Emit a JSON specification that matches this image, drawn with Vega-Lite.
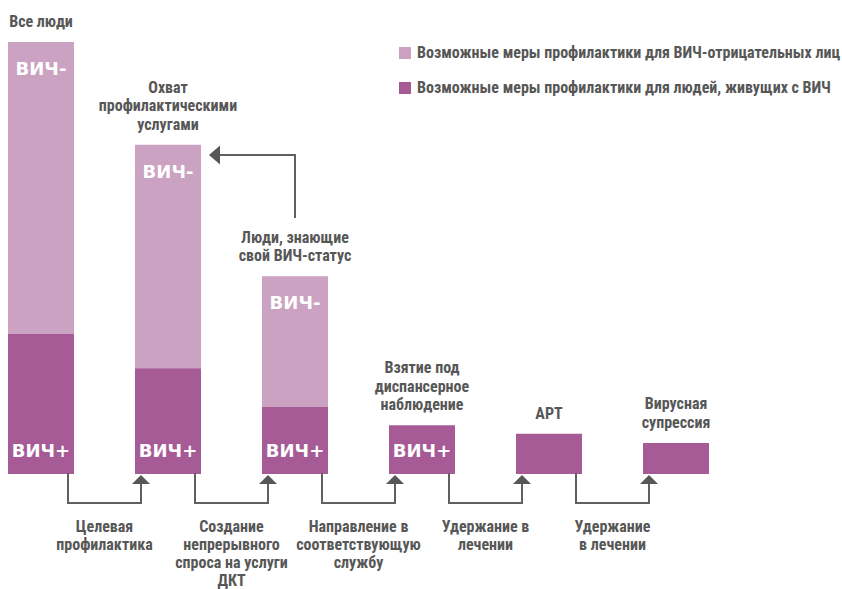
{
  "$schema": "https://vega.github.io/schema/vega-lite/v6.json",
  "width": 842,
  "height": 589,
  "padding": 0,
  "autosize": {"type": "none"},
  "background": "white",
  "config": {"view": {"stroke": null}},
  "datasets": {
    "bars": [
      {"step": 0, "stage": "Все люди", "group": "Возможные меры профилактики для ВИЧ-отрицательных лиц", "count": 67.6},
      {"step": 0, "stage": "Все люди", "group": "Возможные меры профилактики для людей, живущих с ВИЧ", "count": 32.4},
      {"step": 1, "stage": "Охват\nпрофилактическими\nуслугами", "group": "Возможные меры профилактики для ВИЧ-отрицательных лиц", "count": 51.7},
      {"step": 1, "stage": "Охват\nпрофилактическими\nуслугами", "group": "Возможные меры профилактики для людей, живущих с ВИЧ", "count": 24.5},
      {"step": 2, "stage": "Люди, знающие\nсвой ВИЧ-статус", "group": "Возможные меры профилактики для ВИЧ-отрицательных лиц", "count": 30.3},
      {"step": 2, "stage": "Люди, знающие\nсвой ВИЧ-статус", "group": "Возможные меры профилактики для людей, живущих с ВИЧ", "count": 15.5},
      {"step": 3, "stage": "Взятие под\nдиспансерное\nнаблюдение", "group": "Возможные меры профилактики для ВИЧ-отрицательных лиц", "count": 0},
      {"step": 3, "stage": "Взятие под\nдиспансерное\nнаблюдение", "group": "Возможные меры профилактики для людей, живущих с ВИЧ", "count": 11.3},
      {"step": 4, "stage": "АРТ", "group": "Возможные меры профилактики для ВИЧ-отрицательных лиц", "count": 0},
      {"step": 4, "stage": "АРТ", "group": "Возможные меры профилактики для людей, живущих с ВИЧ", "count": 9.3},
      {"step": 5, "stage": "Вирусная\nсупрессия", "group": "Возможные меры профилактики для ВИЧ-отрицательных лиц", "count": 0},
      {"step": 5, "stage": "Вирусная\nсупрессия", "group": "Возможные меры профилактики для людей, живущих с ВИЧ", "count": 7.2}
    ],
    "flows": [
      {"from": 0, "to": 1, "mid": 0.5, "label": "Целевая\nпрофилактика"},
      {"from": 1, "to": 2, "mid": 1.5, "label": "Создание\nнепрерывного\nспроса на услуги\nДКТ"},
      {"from": 2, "to": 3, "mid": 2.5, "label": "Направление в\nсоответствующую\nслужбу"},
      {"from": 3, "to": 4, "mid": 3.5, "label": "Удержание в\nлечении"},
      {"from": 4, "to": 5, "mid": 4.5, "label": "Удержание\nв лечении"}
    ],
    "feedback": [
      {"from": 2, "to": 1}
    ]
  },
  "layer": [
    {
      "data": {"name": "bars"},
      "transform": [
        {"stack": "count", "groupby": ["step"], "sort": [{"field": "group", "order": "descending"}], "as": ["lo", "hi"]}
      ],
      "mark": {"type": "bar", "width": 66},
      "encoding": {
        "x": {"field": "step", "type": "quantitative", "scale": {"domain": [-0.3228, 6.307], "nice": false, "zero": false, "padding": 0}, "axis": null},
        "y": {"field": "lo", "type": "quantitative", "scale": {"domain": [-26.62, 109.72], "nice": false, "zero": false}, "axis": null},
        "y2": {"field": "hi"},
        "color": {
          "field": "group",
          "type": "nominal",
          "scale": {
            "domain": ["Возможные меры профилактики для ВИЧ-отрицательных лиц", "Возможные меры профилактики для людей, живущих с ВИЧ"],
            "range": ["#CBA2C1", "#A65B96"]
          },
          "legend": {
            "orient": "none",
            "legendX": 397,
            "legendY": 45,
            "title": null,
            "symbolType": "square",
            "symbolSize": 144,
            "symbolStrokeWidth": 0,
            "symbolOpacity": 1,
            "labelFont": "Roboto Condensed, Open Sans Condensed, sans-serif",
            "labelFontSize": 16,
            "labelFontWeight": "bold",
            "labelColor": "#575757",
            "labelLimit": 600,
            "rowPadding": 19,
            "labelOffset": 4,
            "padding": 0
          }
        }
      }
    },
    {
      "data": {"name": "bars"},
      "transform": [
        {"stack": "count", "groupby": ["step"], "sort": [{"field": "group", "order": "descending"}], "as": ["lo", "hi"]},
        {"filter": "datum.group == 'Возможные меры профилактики для ВИЧ-отрицательных лиц' && length(split(datum.stage, '\\n')) == 1"}
      ],
      "mark": {"type": "text", "align": "center", "baseline": "bottom", "dy": -12, "font": "Roboto Condensed, Open Sans Condensed, sans-serif", "fontSize": 16, "fontWeight": "bold", "color": "#575757", "lineBreak": "\n", "lineHeight": 18.5},
      "encoding": {
        "x": {"field": "step", "type": "quantitative", "scale": {"domain": [-0.3228, 6.307], "nice": false, "zero": false, "padding": 0}, "axis": null},
        "y": {"field": "hi", "type": "quantitative", "scale": {"domain": [-26.62, 109.72], "nice": false, "zero": false}, "axis": null},
        "text": {"field": "stage"}
      }
    },
    {
      "data": {"name": "bars"},
      "transform": [
        {"stack": "count", "groupby": ["step"], "sort": [{"field": "group", "order": "descending"}], "as": ["lo", "hi"]},
        {"filter": "datum.group == 'Возможные меры профилактики для ВИЧ-отрицательных лиц' && length(split(datum.stage, '\\n')) == 2"}
      ],
      "mark": {"type": "text", "align": "center", "baseline": "bottom", "dy": -30.5, "font": "Roboto Condensed, Open Sans Condensed, sans-serif", "fontSize": 16, "fontWeight": "bold", "color": "#575757", "lineBreak": "\n", "lineHeight": 18.5},
      "encoding": {
        "x": {"field": "step", "type": "quantitative", "scale": {"domain": [-0.3228, 6.307], "nice": false, "zero": false, "padding": 0}, "axis": null},
        "y": {"field": "hi", "type": "quantitative", "scale": {"domain": [-26.62, 109.72], "nice": false, "zero": false}, "axis": null},
        "text": {"field": "stage"}
      }
    },
    {
      "data": {"name": "bars"},
      "transform": [
        {"stack": "count", "groupby": ["step"], "sort": [{"field": "group", "order": "descending"}], "as": ["lo", "hi"]},
        {"filter": "datum.group == 'Возможные меры профилактики для ВИЧ-отрицательных лиц' && length(split(datum.stage, '\\n')) == 3"}
      ],
      "mark": {"type": "text", "align": "center", "baseline": "bottom", "dy": -49, "font": "Roboto Condensed, Open Sans Condensed, sans-serif", "fontSize": 16, "fontWeight": "bold", "color": "#575757", "lineBreak": "\n", "lineHeight": 18.5},
      "encoding": {
        "x": {"field": "step", "type": "quantitative", "scale": {"domain": [-0.3228, 6.307], "nice": false, "zero": false, "padding": 0}, "axis": null},
        "y": {"field": "hi", "type": "quantitative", "scale": {"domain": [-26.62, 109.72], "nice": false, "zero": false}, "axis": null},
        "text": {"field": "stage"}
      }
    },
    {
      "data": {"name": "bars"},
      "transform": [
        {"stack": "count", "groupby": ["step"], "sort": [{"field": "group", "order": "descending"}], "as": ["lo", "hi"]},
        {"filter": "datum.group == 'Возможные меры профилактики для ВИЧ-отрицательных лиц' && datum.count > 0"}
      ],
      "mark": {"type": "text", "text": "ВИЧ-", "align": "center", "baseline": "middle", "dy": 28, "font": "DejaVu Sans", "fontSize": 18, "fontWeight": "bold", "color": "white"},
      "encoding": {
        "x": {"field": "step", "type": "quantitative", "scale": {"domain": [-0.3228, 6.307], "nice": false, "zero": false, "padding": 0}, "axis": null},
        "y": {"field": "hi", "type": "quantitative", "scale": {"domain": [-26.62, 109.72], "nice": false, "zero": false}, "axis": null}
      }
    },
    {
      "data": {"name": "bars"},
      "transform": [
        {"stack": "count", "groupby": ["step"], "sort": [{"field": "group", "order": "descending"}], "as": ["lo", "hi"]},
        {"filter": "datum.group == 'Возможные меры профилактики для людей, живущих с ВИЧ' && datum.step <= 3"}
      ],
      "mark": {"type": "text", "text": "ВИЧ+", "align": "center", "baseline": "middle", "dy": -22, "font": "DejaVu Sans", "fontSize": 18, "fontWeight": "bold", "color": "white"},
      "encoding": {
        "x": {"field": "step", "type": "quantitative", "scale": {"domain": [-0.3228, 6.307], "nice": false, "zero": false, "padding": 0}, "axis": null},
        "y": {"field": "lo", "type": "quantitative", "scale": {"domain": [-26.62, 109.72], "nice": false, "zero": false}, "axis": null}
      }
    },
    {
      "data": {"name": "flows"},
      "mark": {"type": "rule", "xOffset": 27, "color": "#606060", "strokeWidth": 2, "strokeCap": "square"},
      "encoding": {
        "x": {"field": "from", "type": "quantitative", "scale": {"domain": [-0.3228, 6.307], "nice": false, "zero": false, "padding": 0}, "axis": null},
        "y": {"datum": 0, "type": "quantitative", "scale": {"domain": [-26.62, 109.72], "nice": false, "zero": false}, "axis": null},
        "y2": {"datum": -6.71}
      }
    },
    {
      "data": {"name": "flows"},
      "mark": {"type": "rule", "xOffset": 27, "x2Offset": -27, "color": "#606060", "strokeWidth": 2, "strokeCap": "square"},
      "encoding": {
        "x": {"field": "from", "type": "quantitative", "scale": {"domain": [-0.3228, 6.307], "nice": false, "zero": false, "padding": 0}, "axis": null},
        "x2": {"field": "to"},
        "y": {"datum": -6.71, "type": "quantitative", "scale": {"domain": [-26.62, 109.72], "nice": false, "zero": false}, "axis": null}
      }
    },
    {
      "data": {"name": "flows"},
      "mark": {"type": "rule", "xOffset": -27, "color": "#606060", "strokeWidth": 2, "strokeCap": "square"},
      "encoding": {
        "x": {"field": "to", "type": "quantitative", "scale": {"domain": [-0.3228, 6.307], "nice": false, "zero": false, "padding": 0}, "axis": null},
        "y": {"datum": -2.3, "type": "quantitative", "scale": {"domain": [-26.62, 109.72], "nice": false, "zero": false}, "axis": null},
        "y2": {"datum": -6.71}
      }
    },
    {
      "data": {"name": "flows"},
      "mark": {"type": "point", "shape": "M-1,0.5L0,-0.5L1,0.5Z", "size": 324, "filled": true, "opacity": 1, "xOffset": -27, "color": "#575757", "strokeWidth": 0},
      "encoding": {
        "x": {"field": "to", "type": "quantitative", "scale": {"domain": [-0.3228, 6.307], "nice": false, "zero": false, "padding": 0}, "axis": null},
        "y": {"datum": -1.27, "type": "quantitative", "scale": {"domain": [-26.62, 109.72], "nice": false, "zero": false}, "axis": null}
      }
    },
    {
      "data": {"name": "flows"},
      "mark": {"type": "text", "align": "center", "baseline": "top", "dy": 45, "font": "Roboto Condensed, Open Sans Condensed, sans-serif", "fontSize": 16, "fontWeight": "bold", "color": "#575757", "lineBreak": "\n", "lineHeight": 18},
      "encoding": {
        "x": {"field": "mid", "type": "quantitative", "scale": {"domain": [-0.3228, 6.307], "nice": false, "zero": false, "padding": 0}, "axis": null},
        "y": {"datum": 0, "type": "quantitative", "scale": {"domain": [-26.62, 109.72], "nice": false, "zero": false}, "axis": null},
        "text": {"field": "label"}
      }
    },
    {
      "data": {"name": "feedback"},
      "mark": {"type": "rule", "color": "#606060", "strokeWidth": 2, "strokeCap": "square"},
      "encoding": {
        "x": {"field": "from", "type": "quantitative", "scale": {"domain": [-0.3228, 6.307], "nice": false, "zero": false, "padding": 0}, "axis": null},
        "y": {"datum": 59.49, "type": "quantitative", "scale": {"domain": [-26.62, 109.72], "nice": false, "zero": false}, "axis": null},
        "y2": {"datum": 73.84}
      }
    },
    {
      "data": {"name": "feedback"},
      "mark": {"type": "rule", "xOffset": 52, "color": "#606060", "strokeWidth": 2, "strokeCap": "square"},
      "encoding": {
        "x": {"field": "to", "type": "quantitative", "scale": {"domain": [-0.3228, 6.307], "nice": false, "zero": false, "padding": 0}, "axis": null},
        "x2": {"field": "from"},
        "y": {"datum": 73.84, "type": "quantitative", "scale": {"domain": [-26.62, 109.72], "nice": false, "zero": false}, "axis": null}
      }
    },
    {
      "data": {"name": "feedback"},
      "mark": {"type": "point", "shape": "M-0.58,0L0.58,-1L0.58,1Z", "size": 361, "filled": true, "opacity": 1, "xOffset": 46.5, "color": "#575757", "strokeWidth": 0},
      "encoding": {
        "x": {"field": "to", "type": "quantitative", "scale": {"domain": [-0.3228, 6.307], "nice": false, "zero": false, "padding": 0}, "axis": null},
        "y": {"datum": 73.84, "type": "quantitative", "scale": {"domain": [-26.62, 109.72], "nice": false, "zero": false}, "axis": null}
      }
    }
  ]
}
